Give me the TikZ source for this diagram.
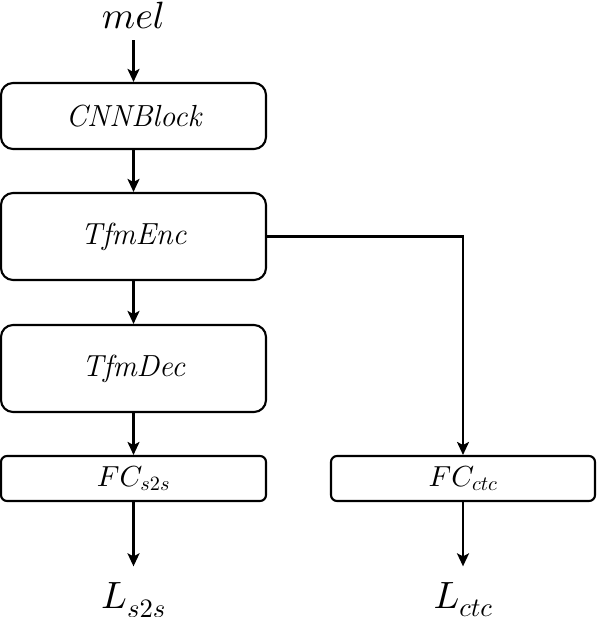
\documentclass[tikz,border=0pt]{standalone}
\DeclareFontShape{OML}{cmm}{m}{it}{<->cmmi10}{}
\DeclareFontShape{OT1}{cmr}{m}{n}{<->cmr10}{}
\usetikzlibrary{arrows.meta}
\begin{document}
\begin{tikzpicture}[x=1pt,y=-1pt,
  blk/.style={draw, line width=2.1pt, rounded corners=12pt, minimum width=265pt, inner sep=0pt, font=\fontsize{30.5}{36}\selectfont\itshape},
  fcbox/.style={draw, line width=2.1pt, rounded corners=6pt, minimum width=265pt, minimum height=45pt, inner sep=0pt, font=\fontsize{29}{35}\selectfont},
  lbl/.style={inner sep=0pt, anchor=base, font=\fontsize{38}{44}\selectfont},
  conn/.style={line width=2.1pt, -{Stealth[length=13pt,width=12pt,inset=3pt]}}]
\useasboundingbox (0,0) rectangle (596,617);
\node[lbl] (mel) at (133.5,29) {$mel$};
\node[blk, minimum height=66pt] (cnn) at (133.5,116) {CNNBlock};
\node[blk, minimum height=87pt] (enc) at (133.5,236.5) {TfmEnc};
\node[blk, minimum height=87pt] (dec) at (133.5,368.5) {TfmDec};
\node[fcbox] (fcs) at (133.5,478.5) {$FC_{s2s}$};
\node[fcbox, minimum width=264pt] (fcc) at (463,478.5) {$FC_{ctc}$};
\node[lbl] (ls) at (133.5,608.5) {$L_{s2s}$};
\node[lbl] (lc) at (463,608.5) {$L_{ctc}$};
\draw[conn, shorten <=11pt] (mel.south) -- (cnn.north);
\draw[conn] (cnn) -- (enc);
\draw[conn] (enc) -- (dec);
\draw[conn] (dec) -- (fcs);
\draw[conn] (enc.east) -| (fcc.north);
\draw[conn, shorten >=16pt] (fcs.south) -- (fcs.south |- ls.north);
\draw[conn, shorten >=16pt] (fcc.south) -- (fcc.south |- lc.north);
\end{tikzpicture}
\end{document}
